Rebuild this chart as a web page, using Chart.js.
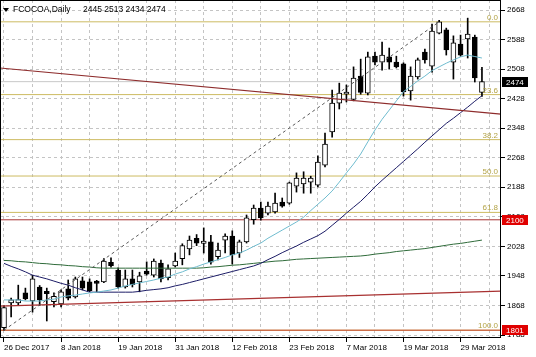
<!DOCTYPE html>
<html><head><meta charset="utf-8">
<script src="https://cdn.jsdelivr.net/npm/chart.js@4.4.1/dist/chart.umd.min.js"></script>
<style>html,body{margin:0;padding:0;background:#fff;overflow:hidden}#wrap{width:536px;height:357px;position:relative}</style>
</head><body><div id="wrap"><canvas id="c" width="536" height="357"></canvas></div>
<script>
const symbolTitle = 'FCOCOA,Daily';
const dateLabels = ['26 Dec 2017','27 Dec 2017','28 Dec 2017','29 Dec 2017','2 Jan 2018','3 Jan 2018','4 Jan 2018','5 Jan 2018','8 Jan 2018','9 Jan 2018','10 Jan 2018','11 Jan 2018','12 Jan 2018','16 Jan 2018','17 Jan 2018','18 Jan 2018','19 Jan 2018','22 Jan 2018','23 Jan 2018','24 Jan 2018','25 Jan 2018','26 Jan 2018','29 Jan 2018','30 Jan 2018','31 Jan 2018','1 Feb 2018','2 Feb 2018','5 Feb 2018','6 Feb 2018','7 Feb 2018','8 Feb 2018','9 Feb 2018','12 Feb 2018','13 Feb 2018','14 Feb 2018','15 Feb 2018','16 Feb 2018','20 Feb 2018','21 Feb 2018','22 Feb 2018','23 Feb 2018','26 Feb 2018','27 Feb 2018','28 Feb 2018','1 Mar 2018','2 Mar 2018','5 Mar 2018','6 Mar 2018','7 Mar 2018','8 Mar 2018','9 Mar 2018','12 Mar 2018','13 Mar 2018','14 Mar 2018','15 Mar 2018','16 Mar 2018','19 Mar 2018','20 Mar 2018','21 Mar 2018','22 Mar 2018','23 Mar 2018','26 Mar 2018','27 Mar 2018','28 Mar 2018','29 Mar 2018','2 Apr 2018','3 Apr 2018','4 Apr 2018'];

const opens  = [1808,1875,1875,1902,1880,1918,1906,1878,1872,1913,1891,1935,1932,1934,1932,1985,1964,1918,1940,1932,1961,1950,1983,1943,1975,1995,2021,2050,2036,2040,2000,2045,2056,2010,2040,2100,2132,2118,2121,2148,2145,2191,2197,2202,2194,2248,2338,2416,2440,2426,2489,2443,2543,2527,2541,2527,2522,2449,2487,2554,2516,2605,2614,2527,2576,2590,2595,2445];
const highs  = [1868,1888,1923,1915,1950,1922,1915,1902,1910,1937,1945,1945,1940,1936,1995,1997,1970,1964,1964,1958,1986,1994,1991,1978,2010,2035,2056,2060,2078,2058,2037,2062,2070,2045,2113,2140,2148,2148,2172,2159,2202,2227,2230,2218,2273,2335,2451,2470,2465,2514,2535,2554,2554,2581,2565,2543,2525,2514,2538,2562,2630,2640,2619,2598,2600,2646,2600,2513];
const lows   = [1801,1837,1870,1883,1850,1868,1826,1864,1864,1883,1888,1910,1905,1905,1930,1972,1915,1915,1918,1905,1950,1945,1932,1937,1972,1978,2005,2030,2010,1980,1991,2010,1980,1998,2037,2088,2099,2113,2118,2134,2142,2175,2172,2172,2189,2243,2324,2400,2419,2422,2440,2438,2519,2505,2508,2511,2435,2424,2481,2524,2500,2603,2546,2481,2543,2538,2473,2434];
const closes = [1862,1883,1884,1886,1940,1883,1900,1893,1905,1888,1940,1915,1908,1928,1988,1976,1918,1940,1924,1948,1953,1988,1940,1967,1988,2030,2045,2037,2042,1985,2018,2056,2005,2040,2105,2132,2105,2137,2145,2137,2200,2213,2213,2213,2256,2305,2416,2443,2446,2484,2445,2541,2527,2546,2527,2514,2446,2489,2533,2533,2611,2636,2560,2579,2546,2603,2484,2474];

const maFast = [1883,1883,1883,1880,1880,1880,1883,1885,1891,1894,1896,1899,1902,1904,1907,1910,1915,1921,1925,1929,1933,1937,1942,1945,1953,1959,1967,1973,1980,1986,1992,1998,2005,2010,2018,2028,2037,2050,2061,2072,2083,2094,2107,2125,2142,2159,2178,2202,2227,2251,2278,2311,2343,2372,2397,2422,2447,2461,2476,2489,2504,2514,2524,2533,2541,2546,2542,2538];
const maMid  = [1982,1974,1967,1959,1950,1945,1940,1934,1928,1923,1916,1910,1904,1904,1904,1904,1904,1904,1904,1906,1909,1911,1913,1916,1921,1925,1930,1935,1940,1945,1950,1955,1960,1965,1970,1975,1982,1992,2001,2011,2020,2029,2039,2048,2057,2069,2085,2101,2118,2134,2150,2169,2189,2207,2224,2241,2258,2275,2292,2310,2327,2344,2361,2375,2390,2405,2421,2436];
const maSlow = [1990,1989,1987,1986,1984,1982,1981,1979,1978,1976,1975,1973,1972,1970,1969,1969,1969,1969,1969,1969,1969,1969,1969,1969,1969,1969,1969,1969,1970,1972,1973,1975,1977,1978,1980,1982,1984,1986,1988,1989,1991,1993,1994,1995,1996,1997,1998,1999,2000,2001,2002,2004,2007,2009,2011,2014,2016,2018,2020,2022,2025,2028,2031,2034,2036,2039,2042,2045];

const yTickLabels = [1788,1868,1948,2028,2108,2188,2268,2348,2428,2508,2588,2668];
const fibLevels = [0, 23.6, 38.2, 50, 61.8, 100];
const fibHigh = 2636, fibLow = 1801;
const fibAnchorBars = [0, 61];
const priceLines = [2100, 1801];
const trendDown = [2511, 2386];
const trendUp = [1866, 1907];

const xMin = -0.56, xMax = 69.67;
const yMin = 1779.9, yMax = 2695.1;

const idx = opens.map((_, i) => i);
const fibValues = fibLevels.map(l => fibHigh - (fibHigh - fibLow) * l / 100);
const lastClose = closes[closes.length - 1];

function hline(v, color, order, dash) {
  return {type:'line', data:[{x:xMin,y:v},{x:xMax,y:v}], borderColor:color, borderWidth:1,
          pointRadius:0, borderDash:dash||[], order:order, fill:false};
}

const datasets = [];
datasets.push(hline(lastClose, '#C8C8C8', 20));
fibValues.forEach(v => datasets.push(hline(v, '#CDBB62', 19)));
datasets.push(hline(priceLines[0], '#A83434', 18));
datasets.push(hline(priceLines[1], '#C8462E', 18));
datasets.push({type:'bar', data: idx.map(i => ({x:i, y:[lows[i], highs[i]]})), backgroundColor:'#000',
  barThickness:1, grouped:false, order:12});
datasets.push({type:'bar', data: idx.map(i => ({x:i, y:[Math.min(opens[i],closes[i]), Math.max(opens[i],closes[i])]})),
  backgroundColor: idx.map(i => closes[i] >= opens[i] ? '#ffffff' : '#000000'),
  borderColor:'#000', borderWidth:1, borderSkipped:false, barThickness:5, grouped:false, minBarLength:2, order:11});
datasets.push({type:'line', data: idx.map(i => ({x:i, y:maSlow[i]})), borderColor:'#2F6B3A', borderWidth:1, pointRadius:0, order:5});
datasets.push({type:'line', data: idx.map(i => ({x:i, y:maMid[i]})), borderColor:'#1C1C66', borderWidth:1, pointRadius:0, order:4});
datasets.push({type:'line', data: idx.map(i => ({x:i, y:maFast[i]})), borderColor:'#6FBCCF', borderWidth:1, pointRadius:0, order:3});
datasets.push({type:'line', data:[{x:xMin,y:trendDown[0]},{x:xMax,y:trendDown[1]}], borderColor:'#8E2C2C', borderWidth:1.2, pointRadius:0, order:2});
datasets.push({type:'line', data:[{x:xMin,y:trendUp[0]},{x:xMax,y:trendUp[1]}], borderColor:'#A83030', borderWidth:1.2, pointRadius:0, order:2});
datasets.push({type:'line', data:[{x:fibAnchorBars[0],y:fibLow},{x:fibAnchorBars[1],y:fibHigh}], borderColor:'#5A5A5A', borderWidth:1, borderDash:[3,3], pointRadius:0, order:1});

const FONT = '"Liberation Sans", Arial, sans-serif';

const overlay = {
  id:'overlay',
  afterDatasetsDraw(chart) {
    const {ctx, chartArea, scales:{y}} = chart;
    ctx.save();
    ctx.font = '8px ' + FONT;
    ctx.fillStyle = '#B3A346';
    ctx.textAlign = 'right';
    ctx.textBaseline = 'alphabetic';
    fibLevels.forEach((lv, k) => {
      ctx.fillText(lv.toFixed(1), chartArea.right - 3, y.getPixelForValue(fibValues[k]) - 2);
    });
    ctx.restore();
  },
  afterDraw(chart) {
    const {ctx, chartArea, scales:{y}} = chart;
    ctx.save();
    // frame
    ctx.strokeStyle = '#000'; ctx.lineWidth = 1; ctx.setLineDash([]);
    ctx.strokeRect(chartArea.left + 0.5, chartArea.top + 0.5, chartArea.right - chartArea.left - 1, chartArea.bottom - chartArea.top - 1);
    // price boxes
    const boxes = [[lastClose,'#000000'],[priceLines[0],'#E00000'],[priceLines[1],'#E00000']];
    ctx.font = '8px ' + FONT;
    ctx.textAlign = 'left'; ctx.textBaseline = 'middle';
    boxes.forEach(([v, bg]) => {
      const py = Math.round(y.getPixelForValue(v));
      ctx.fillStyle = bg;
      ctx.fillRect(chartArea.right + 1, py - 5, 26, 10);
      ctx.fillStyle = '#fff';
      ctx.fillText(String(v), chartArea.right + 5, py + 0.5);
    });
    // title
    ctx.fillStyle = '#000';
    ctx.beginPath(); ctx.moveTo(3, 8); ctx.lineTo(9, 8); ctx.lineTo(6, 12); ctx.closePath(); ctx.fill();
    ctx.font = '8.5px ' + FONT;
    ctx.textBaseline = 'alphabetic';
    ctx.fillText(symbolTitle, 13, 12);
    const n = opens.length - 1;
    ctx.fillText([opens[n], highs[n], lows[n], closes[n]].join(' '), 83, 12);
    ctx.restore();
  }
};

new Chart(document.getElementById('c'), {
  type:'bar',
  data:{datasets},
  plugins:[overlay],
  options:{
    responsive:false, animation:false, devicePixelRatio:1,
    layout:{padding:{left:0, top:0, right:0, bottom:0}},
    plugins:{legend:{display:false}, tooltip:{enabled:false}, title:{display:false}},
    scales:{
      x:{type:'linear', min:xMin, max:xMax, offset:false,
        afterBuildTicks: s => { const t=[]; for (let i=0;i<=68;i+=4) t.push({value:i}); s.ticks = t; },
        afterFit: s => { s.height = 19; s.paddingLeft = 0; s.paddingRight = 0; },
        grid:{color:'#C4C4C4', lineWidth:1, drawTicks:true, tickLength:4, offset:false,
          tickColor: c => (c.tick && c.tick.value % 8 === 0 && c.tick.value <= 64) ? '#000' : 'rgba(0,0,0,0)', tickBorderDash:[]},
        border:{display:false, dash:[3,3]},
        ticks:{autoSkip:false, maxRotation:0, minRotation:0, align:'start', padding:1, color:'#000',
          font:{family:FONT, size:8},
          callback: v => (v % 8 === 0 && dateLabels[v]) ? dateLabels[v] : ''}
      },
      y:{type:'linear', position:'right', min:yMin, max:yMax,
        afterBuildTicks: s => { s.ticks = yTickLabels.map(v => ({value:v})); },
        afterFit: s => { s.width = 35; s.paddingTop = 0; s.paddingBottom = 0; },
        grid:{color:'#C4C4C4', lineWidth:1, drawTicks:true, tickLength:4, tickColor:'#000', tickBorderDash:[]},
        border:{display:false, dash:[3,3]},
        ticks:{padding:2, color:'#000', font:{family:FONT, size:8}, callback: v => String(v)}
      }
    }
  }
});
</script>
</body></html>
